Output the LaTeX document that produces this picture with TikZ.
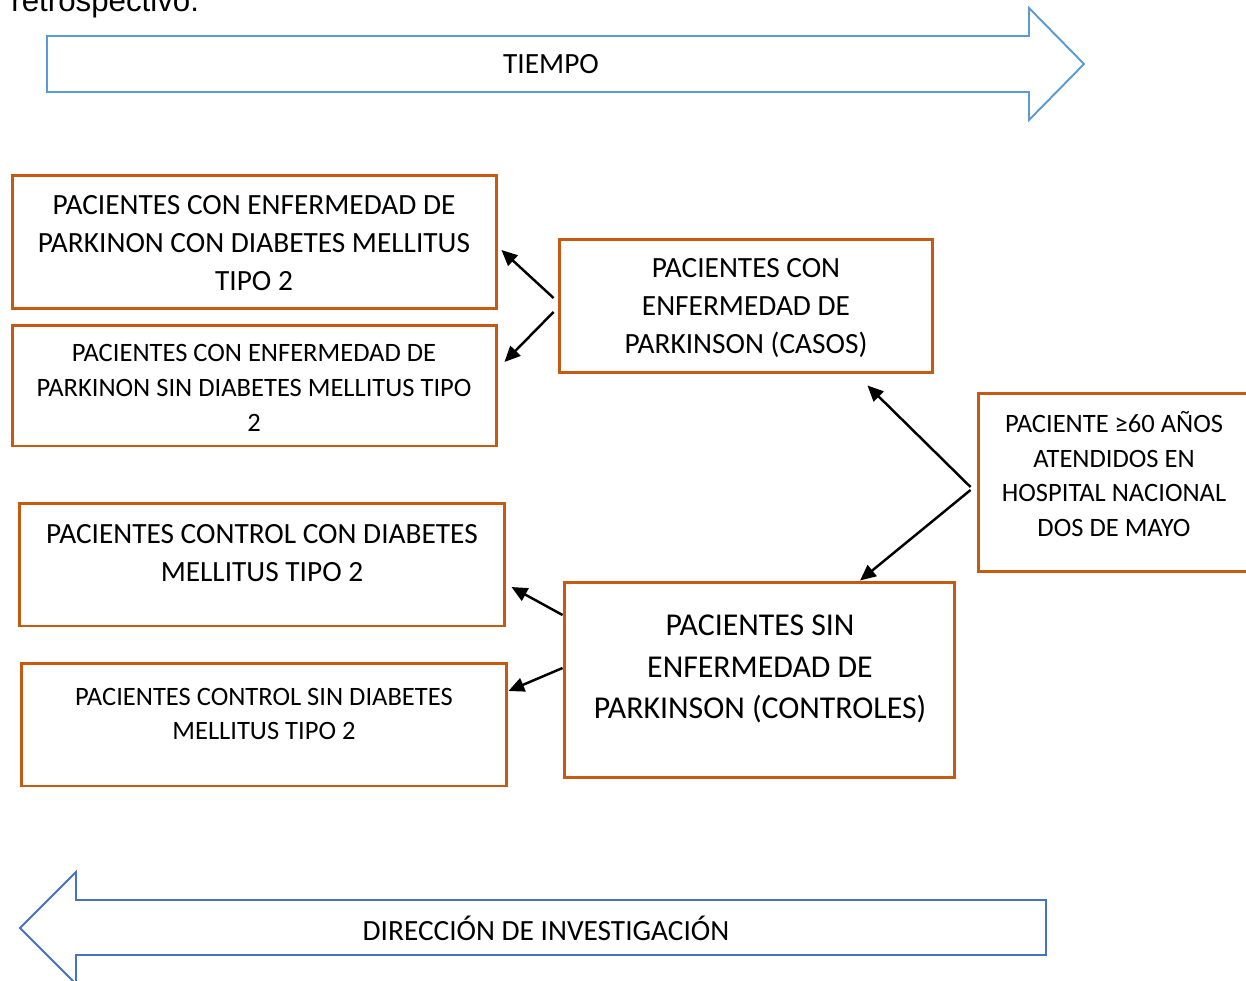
\documentclass[tikz,border=0pt]{standalone}
\usepackage{fontspec}
\setmainfont{Carlito}
\newfontfamily\arialfont{Liberation Sans}
\usetikzlibrary{arrows.meta}
\definecolor{naranja}{HTML}{C55A11}
\definecolor{celeste}{HTML}{5B9BD5}
\definecolor{azul}{HTML}{4472C4}

\begin{document}
\begin{tikzpicture}[x=0.02cm,y=-0.02cm,
  caja/.style={draw=naranja,line width=1.7pt,inner sep=0pt},
  texto/.style={align=center,inner sep=0pt,font=\fontsize{16.7}{21.5}\selectfont},
  chico/.style={align=center,inner sep=0pt,font=\fontsize{15.1}{19.8}\selectfont},
  grande/.style={align=center,inner sep=0pt,font=\fontsize{18.1}{23.8}\selectfont},
  flecha/.style={draw=black,line width=1.4pt,-{Triangle[length=9pt,width=8pt]}}]
\clip (0,0) rectangle (1246,980);
\useasboundingbox (0,0) rectangle (1246,980);

% texto cortado arriba
\node[anchor=base west,inner sep=0pt,font=\arialfont\fontsize{17.8}{21}\selectfont] (retro) at (11,12) {retrospectivo.};

% flecha del tiempo
\draw[celeste,line width=1.1pt] (47,36) -- (1029,36) -- (1029,8) -- (1084,64) -- (1029,120) -- (1029,92) -- (47,92) -- cycle;
\node[texto] (tiempo) at (551,64) {TIEMPO};

% cajas
\node[caja,minimum width=9.7cm,minimum height=2.68cm] (parkcon) at (254.5,242) {};
\node[texto] (parkcontxt) at (254,243) {PACIENTES CON ENFERMEDAD DE\\PARKINON CON DIABETES MELLITUS\\TIPO 2};
\node[caja,minimum width=9.7cm,minimum height=2.42cm] (parksin) at (254.5,385.5) {};
\node[chico] (parksintxt) at (254,388) {PACIENTES CON ENFERMEDAD DE\\PARKINON SIN DIABETES MELLITUS TIPO\\2};
\node[caja,minimum width=7.48cm,minimum height=2.68cm] (casos) at (746,306) {};
\node[texto] (casostxt) at (746,308) {PACIENTES CON\\ENFERMEDAD DE\\PARKINSON (CASOS)};
\node[caja,minimum width=5.44cm,minimum height=3.58cm] (paciente) at (1114,482.5) {};
\node[chico] (pacientetxt) at (1114,474) {PACIENTE ≥60 AÑOS\\ATENDIDOS EN\\HOSPITAL NACIONAL\\DOS DE MAYO};
\node[caja,minimum width=9.72cm,minimum height=2.46cm] (controlcon) at (262,564.5) {};
\node[texto] (controlcontxt) at (262,553) {PACIENTES CONTROL CON DIABETES\\MELLITUS TIPO 2};
\node[caja,minimum width=9.72cm,minimum height=2.46cm] (controlsin) at (264,724.5) {};
\node[chico] (controlsintxt) at (264,714) {PACIENTES CONTROL SIN DIABETES\\MELLITUS TIPO 2};
\node[caja,minimum width=7.82cm,minimum height=3.92cm] (controles) at (759.5,680) {};
\node[grande] (controlestxt) at (760,669) {PACIENTES SIN\\ENFERMEDAD DE\\PARKINSON (CONTROLES)};

% conectores
\draw[flecha] ([shift={(-4,-8)}]casos.west) -- ([shift={(3,8)}]parkcon.east);
\draw[flecha] ([shift={(-4,6)}]casos.west) -- ([shift={(6,-23.5)}]parksin.east);
\draw[flecha] ([shift={(-6,4.5)}]paciente.west) -- ([shift={(-67,11)}]casos.south east);
\draw[flecha] ([shift={(-6,7.5)}]paciente.west) -- ([shift={(100.5,0)}]controles.north);
\draw[flecha] ([shift={(0,-65)}]controles.west) -- ([shift={(5,22.5)}]controlcon.east);
\draw[flecha] ([shift={(0,-12)}]controles.west) -- ([shift={(0,-33.5)}]controlsin.east);

% flecha de la investigacion
\draw[azul,line width=1.1pt] (1046,900) -- (76,900) -- (76,872) -- (20,928) -- (76,984) -- (76,955) -- (1046,955) -- cycle;
\node[texto] (direccion) at (546,928) {DIRECCIÓN DE INVESTIGACIÓN};
\end{tikzpicture}
\end{document}
